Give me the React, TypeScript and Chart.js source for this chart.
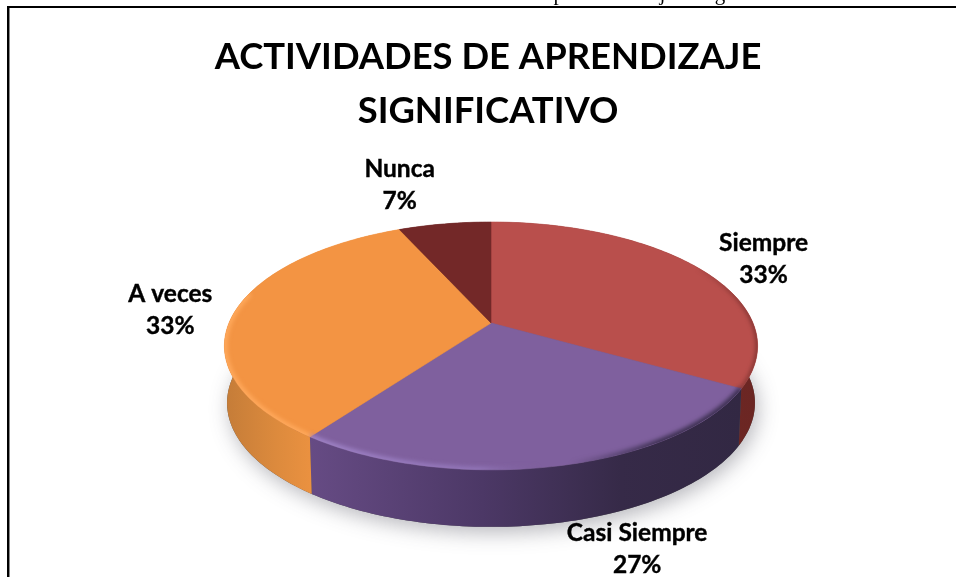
import React, { useEffect, useRef } from "react";
import { Chart, registerables } from "chart.js";

Chart.register(...registerables);

const categories = ["Siempre", "Casi Siempre", "A veces", "Nunca"];
const values = [33.3, 26.7, 33.3, 6.7];
const percentLabels = ["33%", "27%", "33%", "7%"];
const topColors = ["#b94f4c", "#7f609e", "#f39443", "#732828"];
const titleLines = ["ACTIVIDADES DE APRENDIZAJE", "SIGNIFICATIVO"];

const FONT = "Lato, 'Open Sans', sans-serif";

// pie geometry, perspective projection of a flat disc
const cx = 491, cy = 323, A = 262, B = 119.7, K = 0.185, DEPTH = 57;
const wallStops: [number, string][][] = [
  [[0, "#7a2b28"], [1, "#6b2623"]],
  [[0, "#664b84"], [0.4, "#4c3866"], [0.72, "#362a48"], [1, "#322843"]],
  [[0, "#c47c38"], [0.6, "#dc8a3d"], [1, "#ea9140"]],
  [[0, "#5e2020"], [1, "#5e2020"]],
];
// soft rim shading on the top face: from deg, to deg, width, gradient stops along x
const bevels: { from: number; to: number; width: number; stops: [number, string][] }[] = [
  { from: 60, to: 120, width: 3, stops: [[690, "rgba(110,42,40,0)"], [755, "rgba(110,42,40,1)"]] },
  {
    from: 120,
    to: 216,
    width: 6,
    stops: [
      [312, "rgba(160,132,200,1)"],
      [480, "rgba(150,122,190,0.8)"],
      [540, "rgba(127,96,158,0)"],
      [570, "rgba(58,46,78,0)"],
      [660, "rgba(58,46,78,1)"],
    ],
  },
  { from: 216, to: 285, width: 6, stops: [[225, "rgba(255,169,92,1)"], [312, "rgba(255,169,92,1)"]] },
];
const labelOffsets = [[65, -9], [80, 26], [-65, -1], [-45, -39]];

const rad = (d: number) => (d * Math.PI) / 180;

function project(theta: number, drop = 0) {
  const u = Math.sin(theta), v = -Math.cos(theta), w = 1 - K * v;
  const s = drop ? 0.99 : 1;
  return { x: cx + (A * s * u) / w, y: cy + (B * v) / w + drop };
}

function rim(ctx: CanvasRenderingContext2D, a: number, b: number, drop = 0, move = false) {
  const n = Math.max(2, Math.ceil(Math.abs(b - a) / 0.02));
  for (let i = 0; i <= n; i++) {
    const p = project(a + ((b - a) * i) / n, drop);
    if (i === 0 && move) ctx.moveTo(p.x, p.y);
    else ctx.lineTo(p.x, p.y);
  }
}

const pie3d = {
  id: "pie3d",
  beforeDatasetsDraw(chart: any) {
    const ctx: CanvasRenderingContext2D = chart.ctx;
    const arcs = chart.getDatasetMeta(0).data;
    const t0 = (e: any) => e.startAngle + Math.PI / 2;
    const t1 = (e: any) => e.endAngle + Math.PI / 2;

    ctx.save();
    // soft shadow below the disc
    ctx.save();
    ctx.shadowColor = "rgba(70,70,85,0.38)";
    ctx.shadowBlur = 20;
    ctx.shadowOffsetX = 3;
    ctx.shadowOffsetY = 6;
    ctx.fillStyle = "#555";
    ctx.beginPath();
    rim(ctx, 0, Math.PI * 2, DEPTH, true);
    ctx.closePath();
    ctx.fill();
    ctx.restore();

    // walls
    arcs.forEach((e: any, i: number) => {
      const a = t0(e), b = t1(e);
      const pa = project(a), pb = project(b);
      const x0 = i === 1 ? pb.x : i === 2 ? 224 : Math.min(pa.x, pb.x);
      const x1 = i === 1 ? pa.x : i === 2 ? pa.x : Math.max(pa.x, pb.x, i === 0 ? 758 : 0);
      const g = ctx.createLinearGradient(x0, 0, x1, 0);
      wallStops[i].forEach(([o, c]) => g.addColorStop(o, c));
      ctx.fillStyle = g;
      ctx.beginPath();
      rim(ctx, a, b, 0, true);
      rim(ctx, b, a, DEPTH);
      ctx.closePath();
      ctx.fill();
    });

    // top face
    arcs.forEach((e: any, i: number) => {
      const a = t0(e), b = t1(e);
      ctx.fillStyle = topColors[i];
      ctx.beginPath();
      ctx.moveTo(cx, cy);
      rim(ctx, a, b);
      ctx.closePath();
      ctx.fill();
      ctx.strokeStyle = topColors[i];
      ctx.lineWidth = 0.6;
      ctx.stroke();
    });

    // bevel on the near rim
    ctx.save();
    ctx.beginPath();
    ctx.moveTo(cx, cy);
    rim(ctx, 0, Math.PI * 2);
    ctx.closePath();
    ctx.clip();
    ctx.filter = "blur(2px)";
    bevels.forEach(({ from, to, width, stops }) => {
      const x0 = stops[0][0], x1 = stops[stops.length - 1][0];
      const g = ctx.createLinearGradient(x0, 0, x1, 0);
      stops.forEach(([x, c]) => g.addColorStop((x - x0) / (x1 - x0), c));
      ctx.strokeStyle = g;
      ctx.lineWidth = width;
      ctx.beginPath();
      rim(ctx, rad(from), rad(to), 0, true);
      ctx.stroke();
    });
    ctx.restore();
    ctx.restore();
    return false;
  },
  afterDraw(chart: any) {
    const ctx: CanvasRenderingContext2D = chart.ctx;
    const arcs = chart.getDatasetMeta(0).data;
    ctx.save();
    ctx.fillStyle = "#000";
    ctx.strokeStyle = "#000";
    ctx.lineWidth = 0.4;
    ctx.font = `bold 24.5px ${FONT}`;
    ctx.textAlign = "center";
    ctx.textBaseline = "middle";
    arcs.forEach((e: any, i: number) => {
      const mid = (e.startAngle + e.endAngle) / 2 + Math.PI / 2;
      const front = -Math.cos(mid) > 0.6;
      const p = project(mid, front ? DEPTH : 0);
      const x = p.x + labelOffsets[i][0];
      const y = p.y + labelOffsets[i][1];
      [[categories[i], y - 16], [percentLabels[i], y + 16]].forEach(([t, ty]: any) => {
        ctx.fillText(t, x, ty);
        ctx.strokeText(t, x, ty);
      });
    });
    ctx.restore();
  },
};

export default function App() {
  const ref = useRef<HTMLCanvasElement>(null);
  useEffect(() => {
    document.body.style.margin = "0";
    document.body.style.overflow = "hidden";
    const chart = new Chart(ref.current!, {
      type: "pie",
      data: {
        labels: categories,
        datasets: [{ data: values, backgroundColor: topColors, borderWidth: 0 }],
      },
      options: {
        responsive: false,
        animation: false,
        plugins: {
          legend: { display: false },
          tooltip: { enabled: false },
          title: {
            display: true,
            text: titleLines,
            color: "#000",
            font: { family: FONT, size: 36.4, weight: "bold", lineHeight: 1.48 },
            padding: { top: 30, bottom: 10 },
          },
        },
      },
      plugins: [pie3d],
    } as any);
    return () => chart.destroy();
  }, []);
  return (
    <div style={{ position: "relative", width: 956, height: 577, overflow: "hidden", background: "#fff" }}>
      <canvas ref={ref} width={976} height={577} style={{ position: "absolute", left: 0, top: 0, width: 976, height: 577 }} />
      <div
        style={{
          position: "absolute",
          left: 540,
          top: -19,
          font: "21px/24px 'Liberation Serif', serif",
          letterSpacing: "4.2px",
          whiteSpace: "nowrap",
          color: "#000",
        }}
      >
        aprendizaje significativo
      </div>
      <div style={{ position: "absolute", left: 0, top: 8, width: 956, height: 6, background: "#fff" }} />
      <div
        style={{
          position: "absolute",
          left: 7,
          top: 6,
          width: 960,
          height: 580,
          borderLeft: "2px solid #000",
          borderTop: "2px solid #000",
          boxShadow: "inset 1px 0 0 #888",
          pointerEvents: "none",
        }}
      />
    </div>
  );
}
